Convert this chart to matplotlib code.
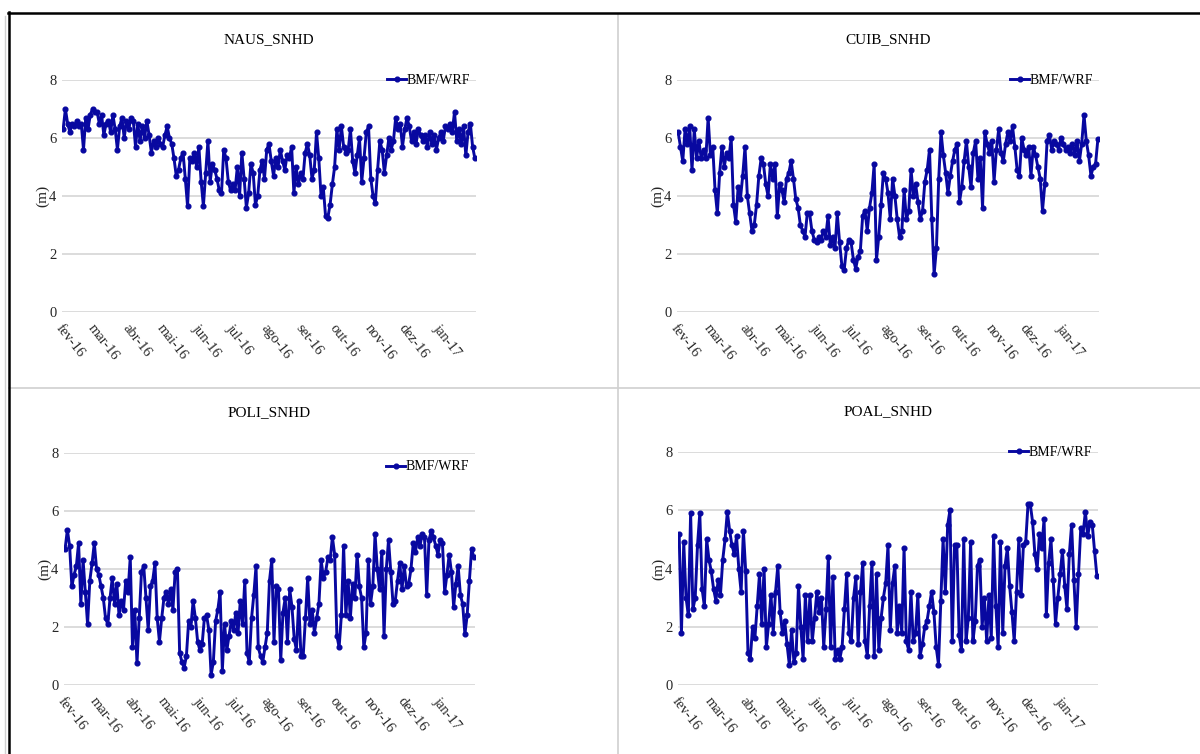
import matplotlib
matplotlib.use("Agg")
import matplotlib.pyplot as plt
from matplotlib.lines import Line2D
import pandas as pd

month_labels = ["fev-16", "mar-16", "abr-16", "mai-16", "jun-16", "jul-16",
                "ago-16", "set-16", "out-16", "nov-16", "dez-16", "jan-17"]
series_name = "BMF/WRF"
titles = ["NAUS_SNHD", "CUIB_SNHD", "POLI_SNHD", "POAL_SNHD"]

naus = [
    6.3, 7.0, 6.5, 6.2, 6.5, 6.4, 6.6, 6.4, 6.5, 5.6, 6.7, 6.3, 6.8, 7.0, 6.9,
    6.9, 6.5, 6.8, 6.1, 6.5, 6.6, 6.2, 6.8, 6.3, 5.6, 6.4, 6.7, 6.0, 6.6, 6.3,
    6.7, 6.6, 5.7, 6.5, 5.9, 6.4, 6.0, 6.6, 6.1, 5.5, 5.9, 5.7, 6.0, 5.8, 5.7,
    6.1, 6.4, 6.0, 5.8, 5.3, 4.7, 4.9, 5.3, 5.5, 4.6, 3.65, 5.3, 5.2, 5.5, 5.0, 5.7,
    4.5, 3.65, 4.8, 5.9, 4.5, 5.1, 4.9, 4.6, 4.2, 4.1, 5.6, 5.3, 4.5, 4.2, 4.4,
    4.2, 5.0, 4.0, 5.5, 4.6, 3.6, 4.1, 5.1, 4.8, 3.7, 4.0, 4.9, 5.2, 4.6, 5.6,
    5.8, 5.2, 4.7, 5.3, 5.0, 5.6, 5.2, 4.9, 5.4, 5.3, 5.7, 4.1, 5.0, 4.4, 4.8, 4.6,
    5.5, 5.8, 5.4, 4.6, 4.9, 6.2, 5.3, 4.0, 4.3, 3.3, 3.25, 3.7, 4.4, 5.0, 6.3,
    5.6, 6.4, 5.7, 5.5, 5.6, 6.3, 5.2, 4.8, 5.4, 6.0, 4.5, 5.3, 6.2, 6.4, 4.6,
    4.0, 3.75, 4.9, 5.9, 5.6, 4.8, 5.4, 6.0, 5.6, 5.9, 6.7, 6.3, 6.5, 5.7, 6.3,
    6.7, 6.4, 5.9, 6.2, 5.8, 6.3, 6.1, 5.9, 6.1, 5.7, 6.2, 5.8, 6.1, 5.6, 6.0, 6.2,
    5.9, 6.4, 6.3, 6.5, 6.2, 6.9, 5.9, 6.3, 5.8, 6.4, 5.4, 6.2, 6.5, 5.7, 5.3,
]

cuib = [
    6.2, 5.7, 5.2, 6.3, 5.8, 6.4, 4.9, 6.3, 5.3, 5.9, 5.3, 5.6, 5.3, 6.7, 5.4,
    5.7, 4.2, 3.4, 4.8, 5.7, 5.0, 5.5, 5.3, 6.0, 3.7, 3.1, 4.3, 3.9, 4.7, 5.7,
    4.0, 3.4, 2.8, 3.0, 3.7, 4.7, 5.3, 5.1, 4.4, 4.0, 5.1, 4.6, 5.1, 3.3, 4.4,
    4.2, 3.8, 4.6, 4.8, 5.2, 4.6, 3.9, 3.6, 3.0, 2.8, 2.6, 3.4, 3.4, 2.8, 2.5, 2.4,
    2.6, 2.5, 2.8, 2.6, 3.3, 2.3, 2.6, 2.2, 3.4, 2.4, 1.6, 1.45, 2.2, 2.5, 2.4,
    1.8, 1.5, 1.9, 2.1, 3.3, 3.5, 2.8, 3.6, 4.1, 5.1, 1.8, 2.6, 3.7, 4.8, 4.6,
    4.1, 3.2, 4.6, 4.0, 3.2, 2.6, 2.8, 4.2, 3.2, 3.5, 4.9, 4.0, 4.4, 3.8, 3.2, 3.5,
    4.5, 4.9, 5.6, 3.2, 1.3, 2.2, 4.6, 6.2, 5.4, 4.8, 4.1, 4.7, 5.2, 5.6, 5.8,
    3.8, 4.3, 5.2, 5.9, 5.0, 4.3, 5.5, 5.9, 4.6, 5.3, 3.6, 6.2, 5.8, 5.5, 5.9,
    4.5, 5.6, 6.3, 5.5, 5.2, 5.8, 6.2, 5.9, 6.4, 5.7, 4.9, 4.7, 6.0, 5.6, 5.4,
    5.7, 4.7, 5.7, 5.4, 5.0, 4.6, 3.5, 4.4, 5.9, 6.1, 5.6, 5.9, 5.8, 5.6, 6.0, 5.8,
    5.6, 5.7, 5.5, 5.8, 5.4, 5.9, 5.2, 5.8, 6.8, 5.9, 5.4, 4.7, 5.0, 5.1, 5.95,
]

poli = [
    4.7, 5.35, 4.8, 3.4, 3.8, 4.1, 4.9, 2.8, 4.3, 3.2, 2.1, 3.6, 4.2, 4.9, 4.0,
    3.8, 3.4, 3.0, 2.3, 2.1, 3.0, 3.7, 2.8, 3.5, 2.4, 2.9, 2.6, 3.6, 3.2, 4.4,
    1.3, 2.6, 0.75, 2.3, 3.9, 4.1, 3.0, 1.9, 3.4, 3.6, 4.2, 2.3, 1.5, 2.3, 3.0,
    3.2, 2.8, 3.3, 2.6, 3.9, 4.0, 1.1, 0.8, 0.6, 1.0, 2.2, 2.0, 2.9, 2.3, 1.5, 1.2,
    1.4, 2.3, 2.4, 1.9, 0.35, 0.8, 2.2, 2.6, 3.2, 0.5, 2.1, 1.2, 1.7, 2.2, 1.9,
    2.5, 1.8, 2.9, 2.1, 3.6, 1.1, 0.8, 2.3, 3.1, 4.1, 1.3, 1.0, 0.8, 1.3, 1.8,
    3.6, 4.3, 1.5, 3.4, 3.3, 0.85, 2.5, 3.0, 1.5, 3.3, 2.7, 1.6, 1.2, 2.9, 1.0, 1.0,
    2.3, 3.7, 2.1, 2.6, 1.8, 2.3, 2.8, 4.3, 3.7, 3.9, 4.4, 4.3, 5.1, 4.5, 1.7,
    1.3, 2.4, 4.8, 2.4, 3.6, 2.3, 3.5, 3.0, 4.5, 3.4, 3.0, 1.3, 1.8, 4.3, 2.8,
    3.4, 5.2, 4.0, 3.3, 4.6, 1.7, 4.0, 5.0, 3.9, 2.8, 2.9, 3.6, 4.2, 3.3, 4.1,
    3.4, 3.5, 4.0, 4.9, 4.6, 5.1, 4.8, 5.2, 5.1, 3.1, 5.0, 5.3, 5.1, 4.8, 4.5, 5.0,
    4.9, 3.2, 3.8, 4.5, 3.9, 2.7, 3.5, 4.1, 3.1, 2.8, 1.75, 2.4, 3.6, 4.7, 4.4,
]

poal = [
    5.2, 1.8, 4.9, 3.0, 2.4, 5.9, 2.6, 3.0, 4.8, 5.9, 3.3, 2.7, 5.0, 4.3, 3.9,
    3.3, 2.9, 3.6, 3.1, 4.3, 5.0, 5.95, 5.3, 4.8, 4.5, 5.1, 4.0, 3.2, 5.3, 3.9,
    1.1, 0.9, 2.0, 1.6, 2.7, 3.8, 2.1, 4.0, 1.3, 2.1, 3.1, 1.8, 3.2, 4.1, 2.5,
    1.8, 2.2, 1.4, 0.7, 1.9, 0.8, 1.1, 3.4, 2.0, 0.9, 3.1, 1.5, 3.1, 1.5, 2.3, 3.2,
    2.5, 3.0, 1.3, 2.6, 4.4, 1.3, 3.7, 0.9, 1.2, 0.9, 1.3, 2.6, 3.8, 1.8, 1.5,
    3.0, 3.7, 1.4, 3.2, 4.2, 1.5, 1.0, 2.7, 4.2, 1.0, 3.8, 1.2, 2.3, 3.0, 3.5,
    4.8, 1.9, 3.5, 4.1, 1.8, 2.7, 1.8, 4.7, 1.5, 1.2, 3.2, 1.5, 1.8, 3.1, 1.0, 1.4,
    2.0, 2.2, 2.7, 3.2, 2.5, 1.3, 0.7, 2.9, 5.0, 3.2, 5.5, 6.0, 1.5, 4.8, 4.8,
    1.7, 1.2, 5.0, 1.5, 2.3, 4.9, 1.5, 2.2, 4.1, 4.3, 2.0, 3.0, 1.5, 3.1, 1.6,
    5.1, 2.7, 1.3, 4.9, 1.8, 4.1, 4.7, 3.4, 2.5, 1.5, 3.2, 5.0, 3.1, 4.8, 4.9,
    6.2, 6.2, 5.6, 4.5, 4.0, 5.2, 4.7, 5.7, 2.4, 4.2, 5.0, 3.6, 2.1, 3.0, 3.8, 4.6,
    3.4, 2.6, 4.5, 5.5, 3.6, 2.0, 3.8, 5.4, 5.2, 5.95, 5.1, 5.6, 5.5, 4.6, 3.75,
]

all_series = [naus, cuib, poli, poal]

W, H = 1200, 754
fig = plt.figure(figsize=(W / 100, H / 100), dpi=100)
fig.patch.set_facecolor("white")

# axes rectangles in pixels: left, top, right, bottom
rects = [(62, 80, 476, 312), (677, 80, 1099, 312),
         (64, 453, 475, 685), (678, 452, 1098, 685)]
title_y = [40, 40, 413, 412]
legend_y = [1.0, 1.0, 0.94, 1.0]
serif = "Liberation Serif"
color = "#0808a0"
txt = "#262626"

start = pd.Timestamp("2016-02-01")
end = pd.Timestamp("2017-01-31")
month_starts = pd.date_range("2016-02-01", "2017-01-01", freq="MS")

for i, (l, t, r, b) in enumerate(rects):
    ax = fig.add_axes([l / W, (H - b) / H, (r - l) / W, (b - t) / H])
    vals = all_series[i]
    dates = pd.date_range(start, end, periods=len(vals))
    ax.plot(dates, vals, color=color, lw=2.1, marker="o", ms=3.4,
            label=series_name, zorder=3)
    ax.set_xlim(pd.Timestamp("2016-01-31"), pd.Timestamp("2017-02-01"))
    ax.set_ylim(0, 8)
    ax.set_yticks([0, 2, 4, 6, 8])
    ax.set_yticklabels(["0", "2", "4", "6", "8"], fontfamily=serif, fontsize=10.5,
                       color=txt)
    ax.grid(axis="y", color="#d9d9d9", lw=1.3, zorder=0)
    ax.set_xticks(month_starts)
    ax.set_xticklabels(month_labels, rotation=-52, ha="left", va="top",
                       rotation_mode="anchor", fontfamily=serif, fontsize=10.5,
                       color=txt)
    ax.tick_params(axis="both", length=0)
    ax.tick_params(axis="y", pad=4)
    ax.tick_params(axis="x", pad=7)
    for s in ax.spines.values():
        s.set_visible(False)
    ax.set_ylabel("(m)", fontfamily=serif, fontsize=11, color=txt, labelpad=0)
    cx = (l + r) / 2
    fig.text(cx / W, 1 - title_y[i] / H, titles[i], ha="center", va="center",
             fontfamily=serif, fontsize=11, color="black")
    ax.legend(loc="center right", bbox_to_anchor=(1.0, legend_y[i]),
              frameon=False, handlelength=1.4, handletextpad=0.05,
              prop={"family": serif, "size": 10}, borderaxespad=0)

# panel separators and frame
def fline(x0, y0, x1, y1, **kw):
    fig.add_artist(Line2D([x0 / W, x1 / W], [1 - y0 / H, 1 - y1 / H],
                          transform=fig.transFigure, **kw))

fline(618, 14, 618, 754, color="#d0d0d0", lw=1.2)
fline(9, 388, 1200, 388, color="#d0d0d0", lw=1.2)
fline(5, 16, 5, 754, color="#d0d0d0", lw=1.0)
fline(8, 13, 1200, 13, color="black", lw=1.8)
fline(9, 12, 9, 754, color="black", lw=1.8)

fig.savefig("out.png", dpi=100)
